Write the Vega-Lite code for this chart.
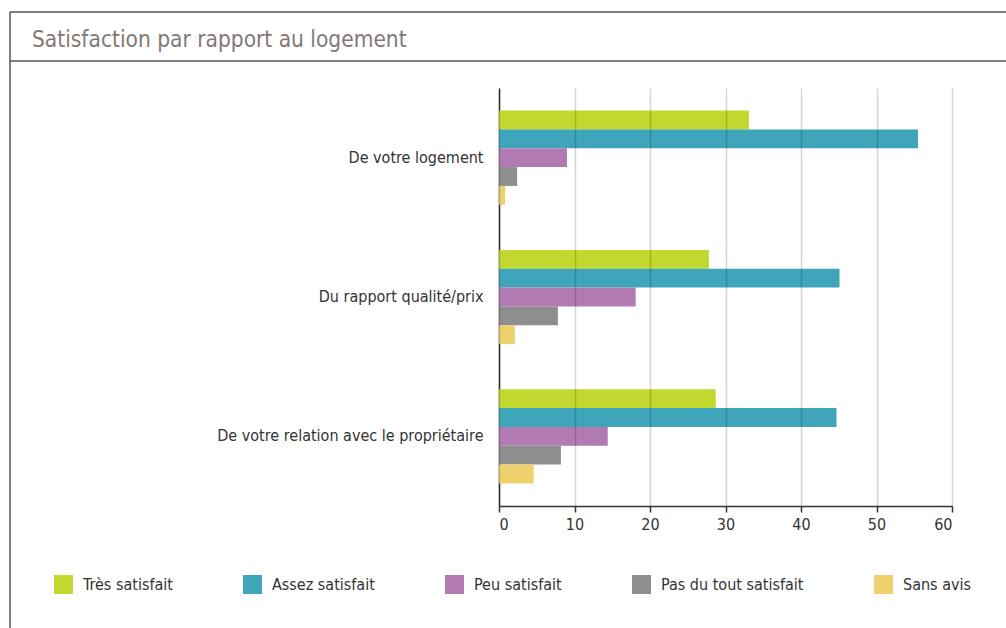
{
  "$schema": "https://vega.github.io/schema/vega-lite/v6.json",
  "autosize": {"type": "none"},
  "width": 453,
  "height": 418,
  "padding": {"left": 499, "top": 88, "right": 54, "bottom": 122},
  "background": "white",
  "config": {
    "font": "DejaVu Sans Condensed, sans-serif",
    "view": {"stroke": null}
  },
  "title": {
    "text": "Satisfaction par rapport au logement",
    "anchor": "start",
    "frame": "group",
    "orient": "top",
    "dx": -467,
    "offset": 0,
    "dy": 58,
    "baseline": "alphabetic",
    "fontSize": 22.5,
    "fontWeight": "normal",
    "color": "#837875",
    "font": "DejaVu Sans Condensed, sans-serif"
  },
  "data": {
    "values": [
      {"question": "De votre logement", "reponse": "Très satisfait", "pct": 33.1},
      {"question": "De votre logement", "reponse": "Assez satisfait", "pct": 55.5},
      {"question": "De votre logement", "reponse": "Peu satisfait", "pct": 9.0},
      {"question": "De votre logement", "reponse": "Pas du tout satisfait", "pct": 2.4},
      {"question": "De votre logement", "reponse": "Sans avis", "pct": 0.8},
      {"question": "Du rapport qualité/prix", "reponse": "Très satisfait", "pct": 27.8},
      {"question": "Du rapport qualité/prix", "reponse": "Assez satisfait", "pct": 45.1},
      {"question": "Du rapport qualité/prix", "reponse": "Peu satisfait", "pct": 18.1},
      {"question": "Du rapport qualité/prix", "reponse": "Pas du tout satisfait", "pct": 7.8},
      {"question": "Du rapport qualité/prix", "reponse": "Sans avis", "pct": 2.1},
      {"question": "De votre relation avec le propriétaire", "reponse": "Très satisfait", "pct": 28.7},
      {"question": "De votre relation avec le propriétaire", "reponse": "Assez satisfait", "pct": 44.7},
      {"question": "De votre relation avec le propriétaire", "reponse": "Peu satisfait", "pct": 14.4},
      {"question": "De votre relation avec le propriétaire", "reponse": "Pas du tout satisfait", "pct": 8.2},
      {"question": "De votre relation avec le propriétaire", "reponse": "Sans avis", "pct": 4.6}
    ]
  },
  "layer": [
    {
      "mark": {"type": "bar"},
      "encoding": {
        "y": {
          "field": "question",
          "type": "nominal",
          "sort": ["De votre logement", "Du rapport qualité/prix", "De votre relation avec le propriétaire"],
          "scale": {"paddingInner": 0.324, "paddingOuter": 0.162},
          "axis": {
            "title": null,
            "ticks": false,
            "domain": true,
            "domainColor": "#333333",
            "domainWidth": 1.5,
            "labelPadding": 16,
            "labelFontSize": 16,
            "labelColor": "#333333",
            "labelLimit": 400
          }
        },
        "yOffset": {
          "field": "reponse",
          "type": "nominal",
          "sort": ["Très satisfait", "Assez satisfait", "Peu satisfait", "Pas du tout satisfait", "Sans avis"],
          "scale": {"paddingInner": 0, "paddingOuter": 0}
        },
        "x": {
          "field": "pct",
          "type": "quantitative",
          "scale": {"domain": [0, 60], "nice": false},
          "axis": {
            "title": null,
            "values": [0, 10, 20, 30, 40, 50, 60],
            "grid": true,
            "gridColor": "#000000",
            "gridOpacity": 0.17,
            "gridWidth": 1.5,
            "domainColor": "#333333",
            "domainWidth": 1.5,
            "tickColor": "#333333",
            "tickSize": 6,
            "tickWidth": 1.5,
            "labelFontSize": 16,
            "labelColor": "#333333",
            "labelPadding": 4,
            "zindex": 1
          }
        },
        "color": {
          "field": "reponse",
          "type": "nominal",
          "sort": ["Très satisfait", "Assez satisfait", "Peu satisfait", "Pas du tout satisfait", "Sans avis"],
          "scale": {
            "domain": ["Très satisfait", "Assez satisfait", "Peu satisfait", "Pas du tout satisfait", "Sans avis"],
            "range": ["#c2d82e", "#3fa5bb", "#b27ab3", "#8f8e8e", "#edd16d"]
          },
          "legend": {
            "title": null,
            "orient": "none",
            "direction": "horizontal",
            "columns": 5,
            "legendX": -445,
            "legendY": 487,
            "symbolType": "square",
            "symbolSize": 361,
            "symbolStrokeWidth": 0,
            "symbolOpacity": 1,
            "labelFontSize": 16,
            "labelColor": "#333333",
            "labelOffset": 10,
            "columnPadding": 70,
            "gridAlign": "each",
            "padding": 0
          }
        }
      }
    },
    {
      "data": {"values": [{}]},
      "mark": {"type": "rule", "color": "#555555", "strokeWidth": 1.5},
      "encoding": {"x": {"value": -489}, "x2": {"value": 600}, "y": {"value": -76}, "y2": {"value": -76}}
    },
    {
      "data": {"values": [{}]},
      "mark": {"type": "rule", "color": "#555555", "strokeWidth": 1.5},
      "encoding": {"x": {"value": -489}, "x2": {"value": 600}, "y": {"value": -27}, "y2": {"value": -27}}
    },
    {
      "data": {"values": [{}]},
      "mark": {"type": "rule", "color": "#555555", "strokeWidth": 1.5},
      "encoding": {"x": {"value": -489}, "x2": {"value": -489}, "y": {"value": -76}, "y2": {"value": 600}}
    }
  ]
}
